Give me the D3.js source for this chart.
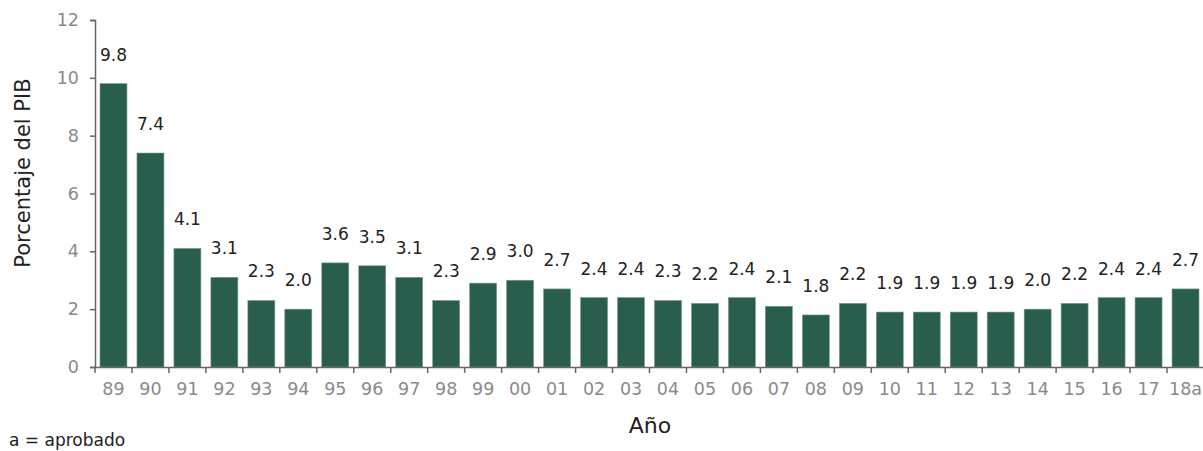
<!DOCTYPE html>
<html><head><meta charset="utf-8">
<script src="https://cdn.jsdelivr.net/npm/d3@7"></script>
<style>body{margin:0;background:#fff}svg{display:block}</style>
</head><body>
<svg id="c" width="1203" height="451"></svg>
<script>
const categories = ["89","90","91","92","93","94","95","96","97","98","99","00","01","02","03","04","05","06","07","08","09","10","11","12","13","14","15","16","17","18a"];
const values = [9.8,7.4,4.1,3.1,2.3,2.0,3.6,3.5,3.1,2.3,2.9,3.0,2.7,2.4,2.4,2.3,2.2,2.4,2.1,1.8,2.2,1.9,1.9,1.9,1.9,2.0,2.2,2.4,2.4,2.7];
const yTicks = [0,2,4,6,8,10,12];
const yTitle = "Porcentaje del PIB";
const xTitle = "Año";
const note = "a = aprobado";

const font = "'DejaVu Sans', 'Noto Sans', sans-serif";
const svg = d3.select("#c");
const x = d3.scaleBand().domain(categories).range([95, 1204]).paddingInner(0.27).paddingOuter(0.135);
const y = d3.scaleLinear().domain([0, 12]).range([367, 20]);

// bars
svg.append("g").selectAll("rect").data(values).join("rect")
  .attr("x", (d,i) => x(categories[i]))
  .attr("y", d => y(d))
  .attr("width", x.bandwidth())
  .attr("height", d => y(0) - y(d))
  .attr("fill", "#295d4d")
  .attr("stroke", "#7a9c90").attr("stroke-width", 0.6);

// value labels
svg.append("g").selectAll("text").data(values).join("text")
  .attr("x", (d,i) => x(categories[i]) + x.bandwidth()/2)
  .attr("y", d => y(d) - 23)
  .attr("text-anchor", "middle")
  .attr("font-family", font).attr("font-size", 17).attr("fill", "#222")
  .text(d => d.toFixed(1));

// y axis
const ya = svg.append("g").attr("transform", "translate(95,0)")
  .call(d3.axisLeft(y).tickValues(yTicks).tickSize(5).tickPadding(11).tickFormat(d3.format("d")));
ya.select(".domain").attr("stroke", "#666").attr("stroke-width", 1.5);
ya.selectAll(".tick line").attr("stroke", "#666").attr("stroke-width", 1.5);
ya.selectAll("text").attr("font-family", font).attr("font-size", 17.5).attr("fill", "#8a8a8a");

// x axis
const xa = svg.append("g").attr("transform", `translate(0,${y(0)})`)
  .call(d3.axisBottom(x).tickSize(0).tickPadding(16));
xa.select(".domain").attr("stroke", "#666").attr("stroke-width", 1.5);
xa.selectAll("text").attr("font-family", font).attr("font-size", 17.5).attr("fill", "#8a8a8a");
// boundary ticks
const step = x.step();
svg.append("g").selectAll("line").data(d3.range(categories.length)).join("line")
  .attr("x1", i => x(categories[i]) - (step - x.bandwidth())/2)
  .attr("x2", i => x(categories[i]) - (step - x.bandwidth())/2)
  .attr("y1", y(0)).attr("y2", y(0) + 6)
  .attr("stroke", "#666").attr("stroke-width", 1.5);

// titles
svg.append("text").attr("transform", "translate(30,173) rotate(-90)")
  .attr("text-anchor", "middle").attr("font-family", font).attr("font-size", 21).attr("fill", "#222")
  .text(yTitle);
svg.append("text").attr("x", 650).attr("y", 433)
  .attr("text-anchor", "middle").attr("font-family", font).attr("font-size", 22).attr("fill", "#222")
  .text(xTitle);
svg.append("text").attr("x", 9).attr("y", 446)
  .attr("font-family", font).attr("font-size", 17).attr("fill", "#222")
  .text(note);
</script>
</body></html>
